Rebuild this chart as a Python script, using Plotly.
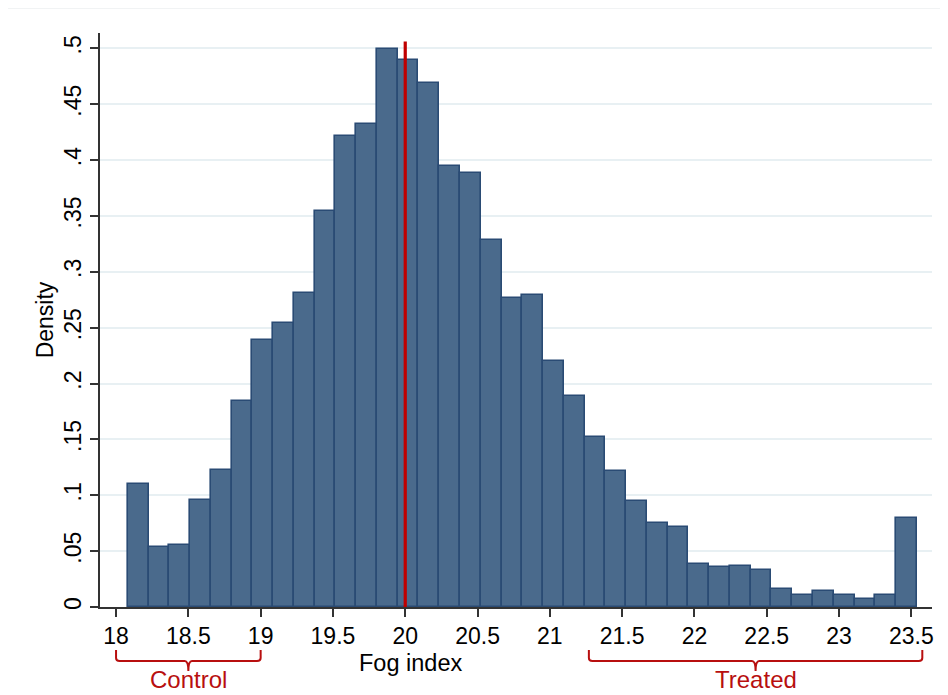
import plotly.graph_objects as go

# ---- data ----
bin_start = 18.081
bin_width = 0.1436
density = [0.1105, 0.0537, 0.0552, 0.0961, 0.1224, 0.1848, 0.2394, 0.2543, 0.2806, 0.3543,
           0.4215, 0.4322, 0.4991, 0.4895, 0.4687, 0.3946, 0.3881, 0.3283, 0.2767, 0.2788,
           0.2206, 0.1889, 0.1522, 0.1218, 0.0949, 0.0752, 0.0716, 0.0388, 0.0358, 0.0367,
           0.0329, 0.0164, 0.0108, 0.0147, 0.0108, 0.0075, 0.0108, 0.0797]
x_tickvals = [18, 18.5, 19, 19.5, 20, 20.5, 21, 21.5, 22, 22.5, 23, 23.5]
x_ticktext = ["18", "18.5", "19", "19.5", "20", "20.5", "21", "21.5", "22", "22.5", "23", "23.5"]
y_tickvals = [0, 0.05, 0.1, 0.15, 0.2, 0.25, 0.3, 0.35, 0.4, 0.45, 0.5]
y_ticktext = ["0", ".05", ".1", ".15", ".2", ".25", ".3", ".35", ".4", ".45", ".5"]
cutoff = 20
control_range = [18, 19]
treated_range = [21.27, 23.576]

centers = [bin_start + bin_width * (i + 0.5) for i in range(len(density))]

# page body has an 8px margin; compensate so the plot lands where the reference has it
OFF = 8
W, H = 948 - OFF, 695 - OFF
ML, MR, MT, MB = 100 - OFF, 16, 33 - OFF, 88
PH = H - MT - MB
PW = W - ML - MR
PLOT_BOTTOM = OFF + H - MB  # absolute page pixel
PLOT_LEFT = OFF + ML


def pyp(py):
    return (PLOT_BOTTOM - py) / PH


def pxp(px):
    return (px - PLOT_LEFT) / PW


RED = "#b80f0f"
FONT = "Liberation Sans, Arial, Helvetica, sans-serif"

fig = go.Figure()
fig.add_trace(go.Bar(
    x=centers, y=density, width=[bin_width] * len(density),
    marker=dict(color="#4a6a8c", line=dict(color="#2a4b74", width=1.6)),
    showlegend=False, hoverinfo="x+y",
))

shapes = []
# outer light frame
shapes.append(dict(type="rect", xref="paper", yref="paper",
                   x0=pxp(6), x1=pxp(960), y0=pyp(720), y1=pyp(8),
                   line=dict(color="#e4e8ea", width=1), fillcolor="rgba(0,0,0,0)", layer="below"))
# cutoff line
shapes.append(dict(type="line", xref="x", yref="y", x0=cutoff, x1=cutoff, y0=0, y1=0.506,
                   line=dict(color="#c00000", width=3.2), layer="above"))


def bracket(x0, x1):
    yt, yh, yb = pyp(650), pyp(661), pyp(671)
    xc = (x0 + x1) / 2
    r = 0.025
    ry = pyp(658) - yh
    path = (f"M {x0},{yt} L {x0},{yh + ry} Q {x0},{yh} {x0 + r},{yh} "
            f"L {xc - r},{yh} Q {xc},{yh} {xc},{yb} "
            f"Q {xc},{yh} {xc + r},{yh} L {x1 - r},{yh} Q {x1},{yh} {x1},{yh + ry} L {x1},{yt}")
    return dict(type="path", xref="x", yref="paper", path=path,
                line=dict(color=RED, width=2), layer="above")


shapes.append(bracket(*control_range))
shapes.append(bracket(*treated_range))

annotations = [
    dict(x=pxp(410), y=pyp(663), xref="paper", yref="paper", text="Fog index",
         showarrow=False, font=dict(family=FONT, size=23.5, color="black"),
         xanchor="center", yanchor="middle"),
    dict(x=sum(control_range) / 2, y=pyp(679), xref="x", yref="paper", text="Control",
         showarrow=False, font=dict(family=FONT, size=24, color=RED), xanchor="center", yanchor="middle"),
    dict(x=sum(treated_range) / 2, y=pyp(679.5), xref="x", yref="paper", text="Treated",
         showarrow=False, font=dict(family=FONT, size=24, color=RED), xanchor="center", yanchor="middle"),
]

fig.update_layout(
    width=W, height=H,
    margin=dict(l=ML, r=MR, t=MT, b=MB),
    paper_bgcolor="white", plot_bgcolor="white",
    bargap=0,
    shapes=shapes, annotations=annotations,
    font=dict(family=FONT, size=23, color="black"),
    xaxis=dict(range=[17.889, 23.643], tickvals=x_tickvals, ticktext=x_ticktext,
               ticks="outside", ticklen=8, tickwidth=1.5, tickcolor="#333",
               showline=True, linecolor="#333", linewidth=1.5, showgrid=False, zeroline=False,
               tickfont=dict(size=23)),
    yaxis=dict(range=[0, 0.5137], tickvals=y_tickvals, ticktext=y_ticktext, tickangle=-90,
               ticks="outside", ticklen=8, tickwidth=1.5, tickcolor="#333",
               showline=True, linecolor="#333", linewidth=1.5,
               showgrid=True, gridcolor="#e8f0f3", gridwidth=1.5, zeroline=False,
               tickfont=dict(size=23),
               title=dict(text="Density", font=dict(size=23), standoff=0)),
)

fig.write_html("out.html")
